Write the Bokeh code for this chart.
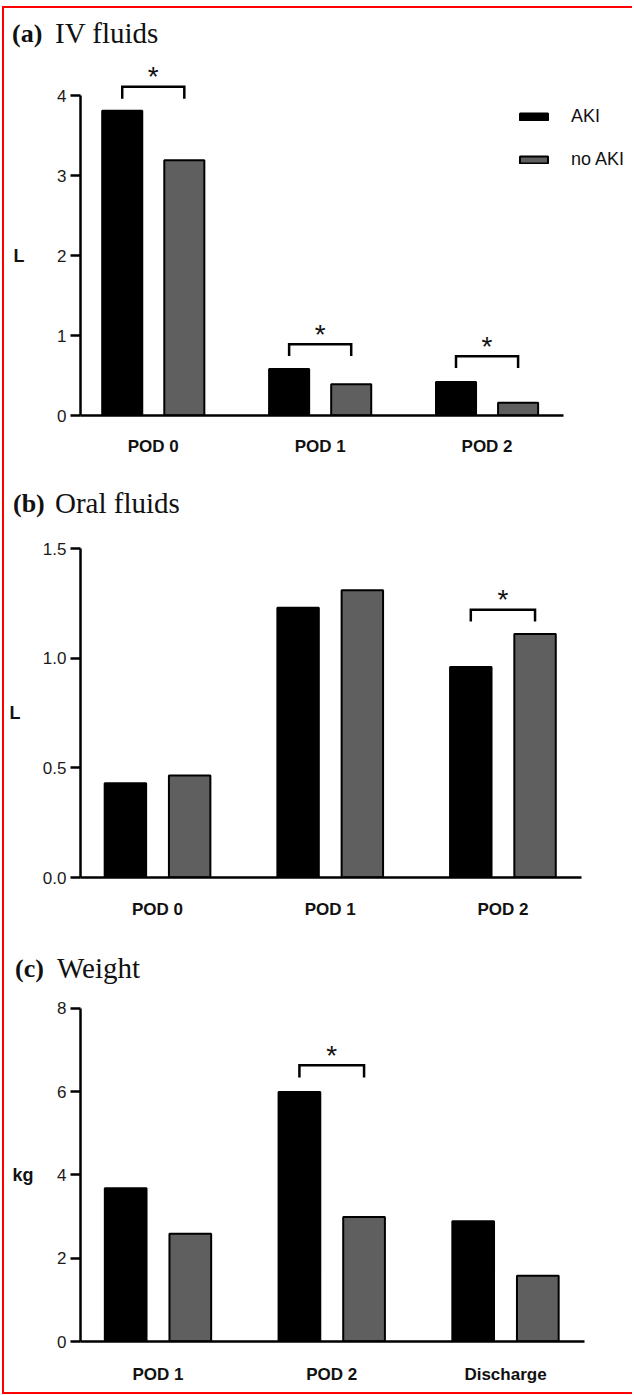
from bokeh.plotting import figure
from bokeh.models import (Range1d, FixedTicker, Legend, LegendItem,
                          PrintfTickFormatter, LinearAxis, Div)
from bokeh.layouts import column
from bokeh.embed import file_html
from bokeh.resources import INLINE
from bokeh.core.properties import value

# ---------------- data ----------------
groups = ["AKI", "no AKI"]

iv_cats = ["POD 0", "POD 1", "POD 2"]
iv_aki = [3.81, 0.58, 0.42]
iv_noaki = [3.19, 0.39, 0.16]
iv_sig = [0, 1, 2]
iv_sig_top = [4.11, 0.89, 0.74]
iv_sig_leg = [3.96, 0.745, 0.595]
iv_ticks = [0, 1, 2, 3, 4]

oral_cats = ["POD 0", "POD 1", "POD 2"]
oral_aki = [0.43, 1.23, 0.96]
oral_noaki = [0.465, 1.31, 1.11]
oral_sig = [2]
oral_sig_top = [1.221]
oral_sig_leg = [1.167]
oral_ticks = [0.0, 0.5, 1.0, 1.5]

wt_cats = ["POD 1", "POD 2", "Discharge"]
wt_aki = [3.68, 5.99, 2.89]
wt_noaki = [2.59, 2.99, 1.58]
wt_sig = [1]
wt_sig_top = [6.63]
wt_sig_leg = [6.34]
wt_ticks = [0, 2, 4, 6, 8]

# ---------------- style ----------------
AKI_COLOR = "black"
NOAKI_COLOR = "#5f5f5f"
OFF = 0.186
BW = 0.24
SANS = "Liberation Sans"
SERIF = "Liberation Serif"
W = 628
TXT = "#111111"


def header(tag, title, height, tag_left, title_left, baseline):
    html = (
        f'<div style="position:relative;width:{W}px;height:{height}px;'
        f'font-family:\'{SERIF}\';color:{TXT};">'
        f'<span style="position:absolute;left:{tag_left}px;top:{baseline - 21.8:.1f}px;'
        f'font-size:26px;line-height:26px;font-weight:bold;white-space:nowrap;">{tag}</span>'
        f'<span style="position:absolute;left:{title_left}px;top:{baseline - 24.3:.1f}px;'
        f'font-size:29px;line-height:29px;white-space:nowrap;">{title}</span>'
        f'</div>'
    )
    return Div(text=html, width=W, height=height, margin=0)


def make_panel(cats, aki, noaki, sig_idx, sig_top, sig_leg, ticks, fmt, ylabel,
               height, mb_left, mb_top, mb_bottom, ppc, x_start, x_axis_end,
               y_scale, ylab_standoff, xlab_standoff, legend_loc=None):
    frame_w = W - mb_left
    frame_h = height - mb_top - mb_bottom
    x_end = x_start + frame_w / ppc
    y_end = frame_h / y_scale
    p = figure(width=W, height=height,
               x_range=Range1d(x_start, x_end), y_range=Range1d(0, y_end),
               output_backend="svg", toolbar_location=None,
               min_border_left=mb_left, min_border_right=0,
               min_border_top=mb_top, min_border_bottom=mb_bottom, margin=0)
    p.outline_line_color = None
    p.xgrid.visible = False
    p.ygrid.visible = False

    xs = list(range(len(cats)))
    r1 = p.vbar(x=[x - OFF for x in xs], top=aki, width=BW, bottom=0,
                fill_color=AKI_COLOR, line_color="black", line_width=2)
    r2 = p.vbar(x=[x + OFF for x in xs], top=noaki, width=BW, bottom=0,
                fill_color=NOAKI_COLOR, line_color="black", line_width=2)

    # significance brackets
    bx, by = [], []
    for i, t, l in zip(sig_idx, sig_top, sig_leg):
        bx.append([i - OFF, i - OFF, i + OFF, i + OFF])
        by.append([l, t, t, l])
    p.multi_line(bx, by, line_color="black", line_width=2.5, line_join="miter")
    p.text(x=sig_idx, y=sig_top, text=["*"] * len(sig_idx),
           text_align="center", text_baseline="alphabetic", y_offset=-10,
           text_font=value(SANS), text_font_size="28px", text_color=TXT)

    # x axis (categories)
    xa = p.xaxis[0]
    xa.ticker = FixedTicker(ticks=xs)
    xa.major_label_overrides = {i: c for i, c in enumerate(cats)}
    xa.bounds = (x_start, x_axis_end)
    xa.axis_line_width = 2.5
    xa.axis_line_color = "black"
    xa.major_tick_line_color = None
    xa.minor_tick_line_color = None
    xa.major_label_standoff = xlab_standoff
    xa.major_label_text_font = SANS
    xa.major_label_text_font_style = "bold"
    xa.major_label_text_font_size = "17px"
    xa.major_label_text_color = TXT

    # y axis (values)
    ya = p.yaxis[0]
    ya.ticker = FixedTicker(ticks=ticks)
    if fmt:
        ya.formatter = PrintfTickFormatter(format=fmt)
    ya.bounds = (ticks[0], ticks[-1])
    ya.axis_line_width = 2.5
    ya.axis_line_color = "black"
    ya.major_tick_line_width = 2.5
    ya.major_tick_line_color = "black"
    ya.major_tick_out = 10
    ya.major_tick_in = 0
    ya.minor_tick_line_color = None
    ya.major_label_standoff = 4
    ya.major_label_text_font = SANS
    ya.major_label_text_font_size = "17px"
    ya.major_label_text_color = "#1a1a1a"

    # unit label, level with the middle of the value axis
    ymid = (ticks[0] + ticks[-1]) / 2
    la = LinearAxis(ticker=FixedTicker(ticks=[ymid]),
                    major_label_overrides={ymid: ylabel},
                    axis_line_color=None, major_tick_line_color=None,
                    minor_tick_line_color=None, major_tick_out=0, major_tick_in=0,
                    major_label_standoff=ylab_standoff,
                    major_label_text_font=SANS,
                    major_label_text_font_style="bold",
                    major_label_text_font_size="18px",
                    major_label_text_color=TXT)
    p.add_layout(la, "left")

    if legend_loc is not None:
        leg = Legend(items=[LegendItem(label=groups[0], renderers=[r1]),
                            LegendItem(label=groups[1], renderers=[r2])],
                     location=legend_loc, glyph_width=35, glyph_height=9,
                     label_standoff=20, spacing=22, padding=0, margin=0,
                     border_line_color=None, background_fill_alpha=0,
                     label_text_font=SANS, label_text_font_size="18px",
                     label_text_color=TXT, label_height=20)
        p.add_layout(leg)
    return p


ha = header("(a)", "IV fluids", 48, 8, 51, 35)
pa = make_panel(iv_cats, iv_aki, iv_noaki, iv_sig, iv_sig_top, iv_sig_leg,
                iv_ticks, None, "L",
                height=414, mb_left=74, mb_top=4, mb_bottom=55,
                ppc=167.5, x_start=-0.436, x_axis_end=2.46, y_scale=80,
                ylab_standoff=30, xlab_standoff=15, legend_loc=(436, 245))

hb = header("(b)", "Oral fluids", 50, 9, 51, 43)
pb = make_panel(oral_cats, oral_aki, oral_noaki, oral_sig, oral_sig_top, oral_sig_leg,
                oral_ticks, "%.1f", "L",
                height=430, mb_left=76, mb_top=4, mb_bottom=73,
                ppc=172.7, x_start=-0.446, x_axis_end=2.455, y_scale=219.3,
                ylab_standoff=19, xlab_standoff=16)

hc = header("(c)", "Weight", 40, 11, 53, 28)
pc = make_panel(wt_cats, wt_aki, wt_noaki, wt_sig, wt_sig_top, wt_sig_leg,
                wt_ticks, None, "kg",
                height=402, mb_left=76, mb_top=4, mb_bottom=51,
                ppc=173.75, x_start=-0.446, x_axis_end=2.455, y_scale=41.65,
                ylab_standoff=21, xlab_standoff=17)

layout = column(ha, pa, hb, pb, hc, pc, spacing=0, margin=(6, 0, 0, 2),
                styles={"border-left": "2px solid red",
                        "border-top": "2px solid red",
                        "border-bottom": "2px solid red",
                        "border-right": "0px none"})

open("out.html", "w").write(file_html(layout, INLINE))
